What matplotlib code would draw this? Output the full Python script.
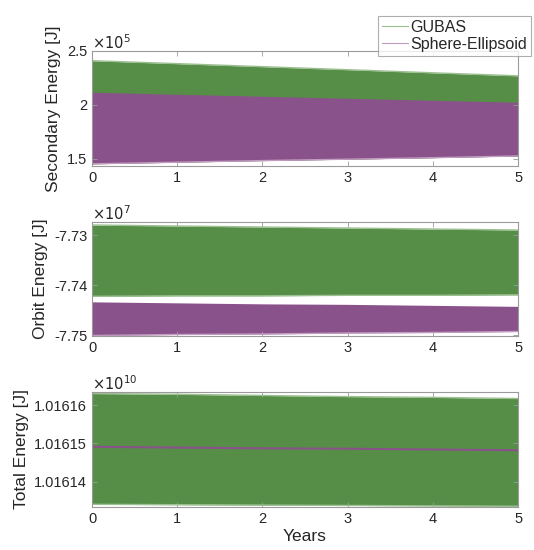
import matplotlib
matplotlib.use('Agg')
import matplotlib.pyplot as plt
import numpy as np

plt.rcParams['font.family'] = ['Liberation Sans', 'DejaVu Sans']

# envelope of the oscillating energies, read at each year
years = [0, 1, 2, 3, 4, 5]

# secondary energy [J]
sec_gubas_hi = [2.410e5, 2.383e5, 2.355e5, 2.327e5, 2.298e5, 2.270e5]
sec_se_hi = [2.118e5, 2.099e5, 2.081e5, 2.062e5, 2.044e5, 2.025e5]
sec_se_lo = [1.455e5, 1.470e5, 1.485e5, 1.498e5, 1.512e5, 1.528e5]

# orbit energy [J]
orb_gubas_hi = [-7.7280e7, -7.7282e7, -7.7284e7, -7.7286e7, -7.7288e7, -7.7290e7]
orb_gubas_lo = [-7.7422e7, -7.7421e7, -7.7421e7, -7.7420e7, -7.7420e7, -7.7419e7]
orb_se_hi = [-7.7433e7, -7.7435e7, -7.7437e7, -7.7438e7, -7.7440e7, -7.7442e7]
orb_se_lo = [-7.7500e7, -7.7498e7, -7.7497e7, -7.7495e7, -7.7494e7, -7.7492e7]

# total energy [J]
tot_gubas_hi = [1.0161630e10, 1.0161628e10, 1.0161625e10, 1.0161622e10, 1.0161620e10, 1.0161617e10]
tot_gubas_lo = [1.0161341e10, 1.0161340e10, 1.0161339e10, 1.0161338e10, 1.0161337e10, 1.0161336e10]
tot_se = [1.0161491e10, 1.0161489e10, 1.0161487e10, 1.0161486e10, 1.0161484e10, 1.0161482e10]

green = '#568e48'
green_l = '#9cc091'
purple = '#8a528a'
purple_l = '#c09cc0'
frame = '#9a9a9a'
txt = '#262626'

fig = plt.figure(figsize=(5.34, 5.5), dpi=100)
L, W = 0.1723, 0.7978
ax1 = fig.add_axes([L, 0.6982, W, 0.2091])
ax2 = fig.add_axes([L, 0.3891, W, 0.2073])
ax3 = fig.add_axes([L, 0.0782, W, 0.2091])

x = np.array(years)

def sc(v, s):
    return np.array(v) / s

def band(ax, lo, hi, c, cl, edge_lo=True, edge_hi=True):
    ax.fill_between(x, lo, hi, color=c, lw=0)
    if edge_hi:
        ax.plot(x, hi, color=cl, lw=1.0)
    if edge_lo:
        ax.plot(x, lo, color=cl, lw=1.0)

# top
s = 1e5
band(ax1, sc(sec_se_lo, s), sc(sec_gubas_hi, s), green, green_l, edge_lo=False)
band(ax1, sc(sec_se_lo, s), sc(sec_se_hi, s), purple, purple_l, edge_hi=False)
ax1.set_ylim(1.435, 2.5)
ax1.set_yticks([1.5, 2, 2.5])
ax1.set_yticklabels(['1.5', '2', '2.5'])
ax1.set_ylabel('Secondary Energy [J]')
ax1.text(0, 1.015, r'$\times10^{5}$', transform=ax1.transAxes, fontsize=10.5, color=txt)

# middle
s = 1e7
band(ax2, sc(orb_gubas_lo, s), sc(orb_gubas_hi, s), green, green_l)
band(ax2, sc(orb_se_lo, s), sc(orb_se_hi, s), purple, purple_l, edge_hi=False)
ax2.set_ylim(-7.7501, -7.7274)
ax2.set_yticks([-7.75, -7.74, -7.73])
ax2.set_yticklabels(['-7.75', '-7.74', '-7.73'])
ax2.set_ylabel('Orbit Energy [J]')
ax2.text(0, 1.015, r'$\times10^{7}$', transform=ax2.transAxes, fontsize=10.5, color=txt)

# bottom
s = 1e10
band(ax3, sc(tot_gubas_lo, s), sc(tot_gubas_hi, s), green, green_l)
ax3.plot(x, sc(tot_se, s), color=purple, lw=1.5)
ax3.set_ylim(1.0161334, 1.0161634)
ax3.set_yticks([1.01614, 1.01615, 1.01616])
ax3.set_yticklabels(['1.01614', '1.01615', '1.01616'])
ax3.set_ylabel('Total Energy [J]')
ax3.set_xlabel('Years', fontsize=12.5, color=txt, labelpad=2)
ax3.text(0, 1.015, r'$\times10^{10}$', transform=ax3.transAxes, fontsize=10.5, color=txt)

for ax in (ax1, ax2, ax3):
    ax.set_xlim(0, 5)
    ax.set_xticks([0, 1, 2, 3, 4, 5])
    ax.tick_params(direction='in', top=True, right=True, length=3.5,
                   color=frame, labelcolor=txt, labelsize=10.5, width=0.6)
    ax.yaxis.label.set_size(12.5)
    ax.yaxis.label.set_color(txt)
    for sp in ax.spines.values():
        sp.set_color(frame)
        sp.set_linewidth(0.8)
        sp.set_zorder(3)

h1, = ax1.plot([], [], color=green_l, lw=0.8, label='GUBAS')
h2, = ax1.plot([], [], color=purple_l, lw=0.8, label='Sphere-Ellipsoid')
leg = fig.legend(handles=[h1, h2], loc='upper right', bbox_to_anchor=(531 / 534, 1 - 16 / 550),
                 fontsize=11.5, frameon=True, fancybox=False, handlelength=1.6,
                 handletextpad=0.15, borderpad=0.25, labelspacing=0.1, borderaxespad=0)
leg.get_frame().set_edgecolor(frame)
leg.get_frame().set_linewidth(0.8)
for t in leg.get_texts():
    t.set_color(txt)

fig.savefig('out.png', dpi=100)
